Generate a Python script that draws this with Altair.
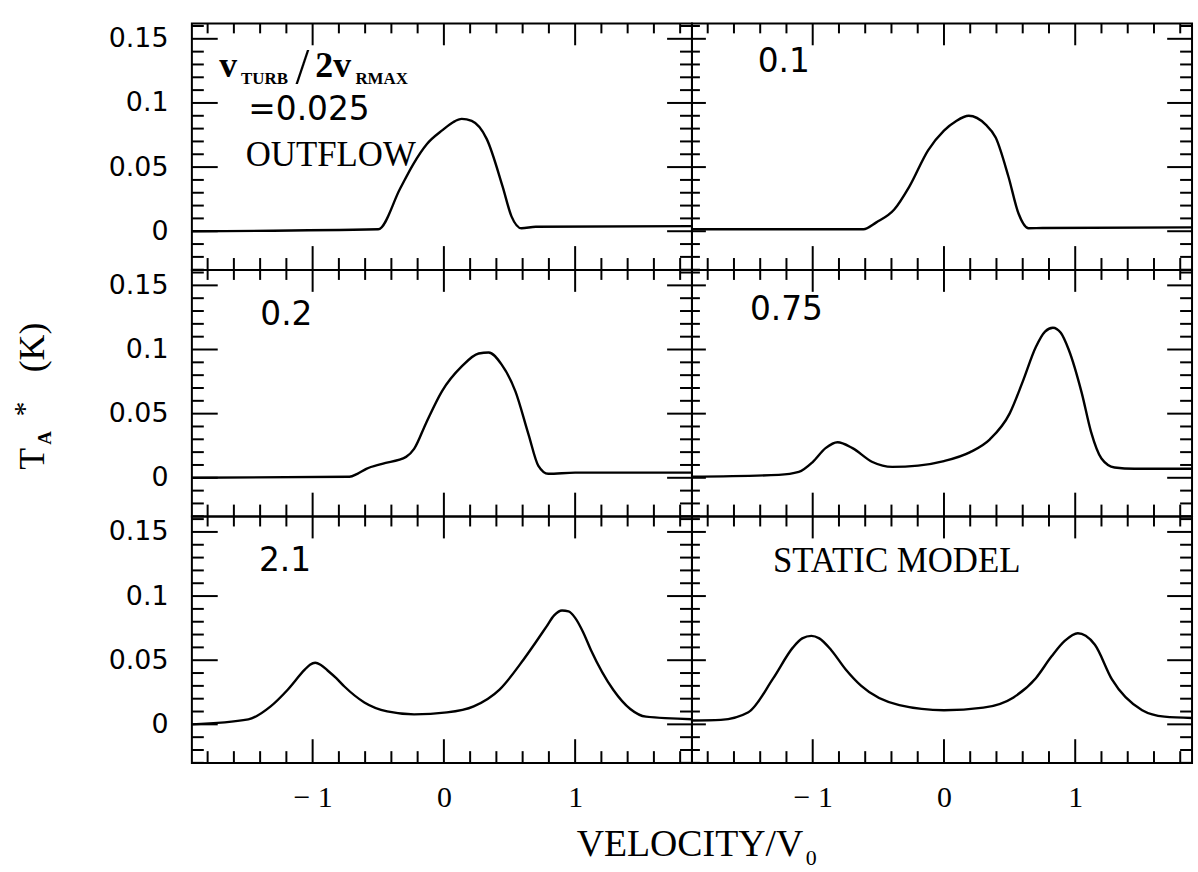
import altair as alt
import pandas as pd

# ---------------- data ----------------
# top-left: v_turb/2v_rmax = 0.025, outflow
v_a = [-1.92, -0.50, -0.333, -0.235, -0.129, -0.008, 0.07, 0.136, 0.212, 0.326, 0.447, 0.515, 0.591, 0.70, 1.89]
t_a = [0.0, 0.0015, 0.0333, 0.052, 0.068, 0.079, 0.085, 0.0876, 0.086, 0.072, 0.035, 0.0116, 0.0023, 0.0035, 0.004]
# top-right: 0.1
v_b = [-1.92, -0.614, -0.515, -0.379, -0.265, -0.121, 0.0, 0.091, 0.189, 0.318, 0.394, 0.492, 0.568, 0.644, 0.75, 1.89]
t_b = [0.0015, 0.0015, 0.0069, 0.0169, 0.0346, 0.0631, 0.0785, 0.0858, 0.090, 0.0831, 0.0731, 0.0423, 0.0138, 0.0023, 0.0025, 0.003]
# middle-left: 0.2
v_c = [-1.92, -0.72, -0.659, -0.591, -0.47, -0.288, -0.227, -0.136, -0.015, 0.136, 0.265, 0.341, 0.439, 0.545, 0.644, 0.72, 0.795, 1.0, 1.89]
t_c = [0.0, 0.0008, 0.0031, 0.007, 0.0109, 0.0163, 0.0225, 0.0426, 0.0674, 0.0868, 0.0969, 0.0977, 0.0884, 0.0674, 0.0341, 0.0093, 0.0031, 0.004, 0.004]
# middle-right: 0.75
v_d = [-1.92, -1.258, -1.106, -1.0, -0.902, -0.811, -0.697, -0.545, -0.394, -0.197, 0.0, 0.2, 0.35, 0.5, 0.6, 0.7, 0.77, 0.83, 0.89, 0.95, 1.05, 1.12, 1.2, 1.3, 1.45, 1.89]
t_d = [0.0008, 0.0023, 0.0046, 0.0123, 0.0231, 0.0277, 0.0231, 0.0123, 0.0085, 0.0095, 0.013, 0.020, 0.030, 0.050, 0.075, 0.102, 0.114, 0.117, 0.113, 0.100, 0.066, 0.036, 0.015, 0.008, 0.007, 0.007]
# bottom-left: 2.1
v_e = [-1.92, -1.49, -1.32, -1.19, -1.06, -1.02, -0.98, -0.94, -0.886, -0.82, -0.758, -0.606, -0.432, -0.227, 0.023, 0.227, 0.424, 0.606, 0.70, 0.78, 0.84, 0.90, 0.95, 1.0, 1.06, 1.12, 1.29, 1.42, 1.54, 1.89]
t_e = [0.0, 0.0039, 0.014, 0.027, 0.0426, 0.0465, 0.048, 0.0465, 0.042, 0.036, 0.0295, 0.0171, 0.0101, 0.0078, 0.0093, 0.014, 0.0271, 0.0504, 0.064, 0.076, 0.085, 0.0888, 0.088, 0.083, 0.072, 0.058, 0.027, 0.012, 0.006, 0.004]
# bottom-right: static model
v_f = [-1.92, -1.70, -1.49, -1.30, -1.15, -1.08, -1.01, -0.95, -0.86, -0.75, -0.63, -0.34, 0.0, 0.3, 0.53, 0.70, 0.82, 0.92, 1.02, 1.08, 1.15, 1.28, 1.51, 1.68, 1.89]
t_f = [0.003, 0.0035, 0.0094, 0.036, 0.060, 0.067, 0.069, 0.067, 0.058, 0.043, 0.030, 0.015, 0.011, 0.013, 0.021, 0.036, 0.053, 0.065, 0.071, 0.069, 0.062, 0.035, 0.011, 0.006, 0.005]

panel_labels = ["", "0.1", "0.2", "0.75", "2.1", "STATIC MODEL"]
label_v = [0, -1.22, -1.20, -1.20, -1.21, -0.36]
label_t = [0, 0.132, 0.127, 0.131, 0.127, 0.127]

x_major = [-1, 0, 1]
x_minor = [-1.8, -1.6, -1.4, -1.2, -0.8, -0.6, -0.4, -0.2, 0.2, 0.4, 0.6, 0.8, 1.2, 1.4, 1.6, 1.8]
y_major = [0, 0.05, 0.1, 0.15]
y_minor = [-0.03, -0.02, -0.01, 0.01, 0.02, 0.03, 0.04, 0.06, 0.07, 0.08, 0.09,
           0.11, 0.12, 0.13, 0.14, 0.16]

W, H = 503, 248
XDOM = [-1.92, 1.89]
YDOM = [-0.0302, 0.162]

SANS = "DejaVu Sans"
SERIF = "Liberation Serif"

xs = alt.Scale(domain=XDOM, nice=False, zero=False)
ys = alt.Scale(domain=YDOM, nice=False, zero=False)


def rules_y(values, x0, x1):
    d = pd.DataFrame({"T": values})
    return alt.Chart(d).mark_rule(color="black", strokeWidth=2).encode(
        y=alt.Y("T:Q", scale=ys, axis=None), x=alt.value(x0), x2=alt.value(x1))


def rules_x(values, y0, y1):
    d = pd.DataFrame({"v": values})
    return alt.Chart(d).mark_rule(color="black", strokeWidth=2).encode(
        x=alt.X("v:Q", scale=xs, axis=None), y=alt.value(y0), y2=alt.value(y1))


def panel(v, t, idx, left_col, bottom_row, extra=None):
    df = pd.DataFrame({"v": v, "T": t})
    xa = alt.Axis(orient="bottom", values=x_major, ticks=False, tickSize=0,
                  labels=bottom_row, domain=False, grid=False, title=None,
                  labelFont=SERIF, labelFontSize=30, labelColor="black",
                  labelPadding=20,
                  labelExpr="datum.value < 0 ? '\u2212 ' + (-datum.value) : '' + datum.value")
    ya = alt.Axis(orient="left", values=y_major, ticks=False, tickSize=0,
                  labels=left_col, domain=False, grid=False, title=None,
                  labelFont=SANS, labelFontSize=27, labelColor="black",
                  labelPadding=24, format="~g")
    line = alt.Chart(df).mark_line(color="black", strokeWidth=2.4, interpolate="monotone").encode(
        x=alt.X("v:Q", scale=xs, axis=xa),
        y=alt.Y("T:Q", scale=ys, axis=ya),
    )
    lmaj = 26 if left_col else 14
    lmin = 12 if left_col else 8
    layers = [
        line,
        # left edge, pointing in
        rules_y(y_major, 0, lmaj), rules_y(y_minor, 0, lmin),
        # right edge, pointing in
        rules_y(y_major, W - 25, W), rules_y(y_minor, W - 12, W),
        # bottom edge, pointing up
        rules_x(x_major, H - 24, H), rules_x(x_minor, H - 12, H),
        # top edge, pointing down
        rules_x(x_major, 0, 22), rules_x(x_minor, 0, 10),
    ]
    if panel_labels[idx]:
        lab = pd.DataFrame({"v": [label_v[idx]], "T": [label_t[idx]], "s": [panel_labels[idx]]})
        is_serif = any(c.isalpha() for c in panel_labels[idx])
        layers.append(
            alt.Chart(lab).mark_text(
                font=SERIF if is_serif else SANS, fontSize=35 if is_serif else 33,
                color="black", align="center", baseline="middle"
            ).encode(x=alt.X("v:Q", scale=xs, axis=None), y=alt.Y("T:Q", scale=ys, axis=None), text="s:N")
        )
    if extra:
        layers.extend(extra)
    return alt.layer(*layers).resolve_axis(x="independent", y="independent").properties(width=W, height=H)


def data_text(v, t, s, **kw):
    d = pd.DataFrame({"v": [v], "T": [t], "s": [s]})
    return alt.Chart(d).mark_text(color="black", **kw).encode(
        x=alt.X("v:Q", scale=xs, axis=None), y=alt.Y("T:Q", scale=ys, axis=None), text="s:N")


def px_text(x, y, s, **kw):
    d = pd.DataFrame({"s": [s]})
    return alt.Chart(d).mark_text(color="black", **kw).encode(
        x=alt.value(x), y=alt.value(y), text="s:N")


# annotation of the first panel
ann_a = [
    data_text(-1.712, 0.120, "v", font=SERIF, fontSize=36, fontWeight="bold", align="left", baseline="alphabetic"),
    data_text(-1.545, 0.1147, "TURB", font=SERIF, fontSize=17, fontWeight="bold", align="left", baseline="alphabetic"),
    data_text(-1.13, 0.1155, "/", font=SERIF, fontSize=50, align="left", baseline="alphabetic"),
    data_text(-0.98, 0.120, "2v", font=SERIF, fontSize=36, fontWeight="bold", align="left", baseline="alphabetic"),
    data_text(-0.674, 0.1147, "RMAX", font=SERIF, fontSize=17, fontWeight="bold", align="left", baseline="alphabetic"),
    data_text(-1.49, 0.0946, "=0.025", font=SANS, fontSize=33, align="left", baseline="middle"),
    data_text(-1.51, 0.0597, "OUTFLOW", font=SERIF, fontSize=35, align="left", baseline="middle"),
]

# y-axis title drawn beside the middle-left panel
ytitle = [
    px_text(-160, 190, "T", font=SERIF, fontSize=36, angle=270, align="center", baseline="middle"),
    px_text(-148, 169, "A", font=SERIF, fontSize=19, fontWeight="bold", angle=270, align="center", baseline="middle"),
    px_text(-168, 140, "*", font=SERIF, fontSize=30, angle=270, align="center", baseline="middle"),
    px_text(-160, 78, "(K)", font=SERIF, fontSize=36, angle=270, align="center", baseline="middle"),
]

# x-axis title drawn below the bottom row
xtitle = [
    px_text(-2, H + 82, "VELOCITY/V", font=SERIF, fontSize=38, align="center", baseline="middle"),
    px_text(120, H + 96, "0", font=SERIF, fontSize=22, align="center", baseline="middle"),
]

p_a = panel(v_a, t_a, 0, True, False, ann_a)
p_b = panel(v_b, t_b, 1, False, False)
p_c = panel(v_c, t_c, 2, True, False, ytitle)
p_d = panel(v_d, t_d, 3, False, False)
p_e = panel(v_e, t_e, 4, True, True)
p_f = panel(v_f, t_f, 5, False, True, xtitle)

chart = alt.ConcatChart(
    concat=[p_a, p_b, p_c, p_d, p_e, p_f], columns=2, spacing=0, bounds="flush"
).properties(
    padding={"left": 9, "top": 19, "right": 0, "bottom": 0},
    background="white",
).configure_view(stroke="black", strokeWidth=2)

chart.save("out.html", embed_options={"renderer": "svg", "actions": False})
